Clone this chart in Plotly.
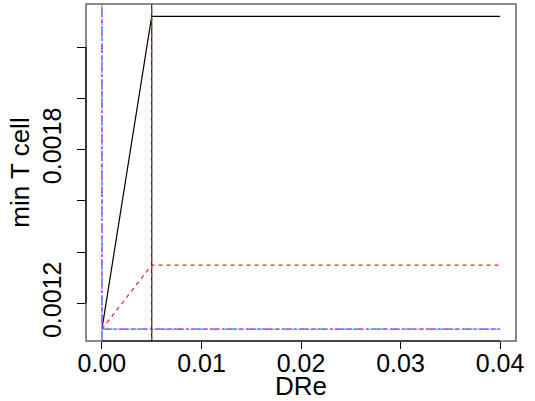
import plotly.graph_objects as go

# Data
dre = [0.0, 0.005, 0.04]
black_vals = [0.0011, 0.00232, 0.00232]
red_vals = [0.0011, 0.00135, 0.00135]
blue_vals = [0.0011, 0.0011, 0.0011]
cyan_vals = [0.0011, 0.0011, 0.0011]
magenta_vals = [0.0011, 0.0011, 0.0011]
vline_black = 0.005
vline_red = 0.005
vline_group = 0.0

x_ticks = [0.0, 0.01, 0.02, 0.03, 0.04]
x_ticktext = ["0.00", "0.01", "0.02", "0.03", "0.04"]
y_ticks = [0.0012, 0.0014, 0.0016, 0.0018, 0.0020, 0.0022]
y_ticktext = ["0.0012", "", "", "0.0018", "", ""]

FONT = "Liberation Sans, Arial, Helvetica, sans-serif"

fig = go.Figure()

series = [
    (blue_vals, "#3355ff", "dashdot"),
    (cyan_vals, "#33ddf0", "longdash"),
    (magenta_vals, "#dd44ee", "2px,2px,6px,2px"),
    (red_vals, "#ee2222", "4px,4px"),
    (black_vals, "black", "solid"),
]
for vals, col, dash in series:
    fig.add_trace(go.Scatter(x=dre, y=vals, mode="lines",
                             line=dict(color=col, width=1.2, dash=dash),
                             showlegend=False, hoverinfo="skip"))

shapes = []
for xv, col, dash in [(vline_group, "#3355ff", "dashdot"),
                      (vline_group, "#33ddf0", "longdash"),
                      (vline_group, "#cc44ee", "2px,2px,6px,2px"),
                      (vline_black, "#222222", "solid"),
                      (vline_red, "#ee2222", "4px,4px")]:
    shapes.append(dict(type="line", xref="x", yref="paper", x0=xv, x1=xv, y0=0, y1=1,
                       line=dict(color=col, width=1.2, dash=dash)))
# box
shapes.append(dict(type="rect", xref="paper", yref="paper", x0=0, x1=1, y0=0, y1=1,
                   line=dict(color="#666666", width=1.5)))
# axis lines spanning tick range (R style)
shapes.append(dict(type="line", xref="x", yref="paper", x0=x_ticks[0], x1=x_ticks[-1], y0=0, y1=0,
                   line=dict(color="black", width=1.2)))
shapes.append(dict(type="line", xref="paper", yref="y", x0=0, x1=0, y0=y_ticks[0], y1=y_ticks[-1],
                   line=dict(color="black", width=1.2)))

fig.update_layout(
    width=535, height=401,
    margin=dict(l=86, r=19, t=4, b=60),
    paper_bgcolor="white", plot_bgcolor="white",
    font=dict(family=FONT, color="black", size=25),
    shapes=shapes,
    xaxis=dict(range=[-0.0016, 0.0416], tickvals=x_ticks, ticktext=x_ticktext,
               ticks="outside", ticklen=7, tickcolor="black", tickwidth=1,
               ticklabelstandoff=-7,
               showgrid=False, zeroline=False, showline=False, automargin=False,
               tickfont=dict(size=25),
               title=dict(text="DRe", font=dict(size=26), standoff=0)),
    yaxis=dict(range=[0.001054, 0.002368], tickvals=y_ticks, ticktext=y_ticktext,
               ticks="outside", ticklen=8, tickcolor="black", tickwidth=1,
               tickangle=-90, ticklabelstandoff=6,
               showgrid=False, zeroline=False, showline=False, automargin=False,
               tickfont=dict(size=25),
               title=dict(text="min T cell", font=dict(size=26), standoff=0)),
)

fig.write_html("out.html")
